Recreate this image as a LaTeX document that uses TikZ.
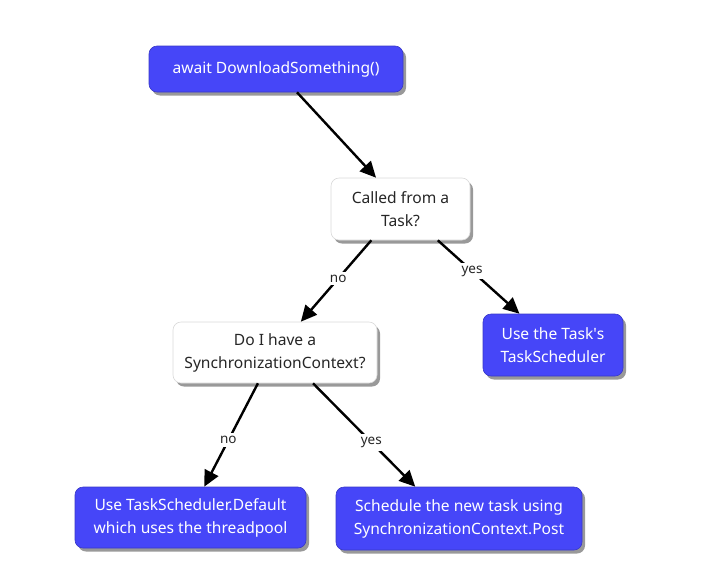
\documentclass[tikz,border=0pt]{standalone}
\usepackage{fontspec}
\setmainfont{Noto Sans}
\usetikzlibrary{arrows.meta,shadows}
\definecolor{boxblue}{RGB}{70,70,248}
\newcommand{\straightapos}{{\addfontfeature{Ligatures=TeXOff}'}}
\tikzset{
  base/.style={rounded corners=8pt, align=center, font=\fontsize{15.6}{23}\selectfont,
    inner sep=0pt, drop shadow={shadow xshift=3pt, shadow yshift=-3.5pt, opacity=0.4, fill=black}},
  bluebox/.style={base, fill=boxblue, text=white, draw=boxblue!80!black, line width=0.6pt},
  whitebox/.style={base, fill=white, text=black!85, draw=black!15, line width=0.6pt},
  conn/.style={line width=2.4pt, -{Triangle[length=16pt,width=15pt]}},
  lbl/.style={fill=white, inner sep=3pt, font=\fontsize{13.5}{15}\selectfont, text=black!85}
}
\begin{document}
\begin{tikzpicture}[x=1pt,y=-1pt]
\useasboundingbox (0,0) rectangle (717,587);
\node[bluebox, minimum width=254pt, minimum height=46pt] (b1) at (276,69) {await DownloadSomething()};
\node[whitebox, minimum width=139pt, minimum height=62pt] (b2) at (400.5,209) {Called from a\\Task?};
\node[whitebox, minimum width=204pt, minimum height=61pt] (b3) at (275,352.5) {Do I have a\\SynchronizationContext?};
\node[bluebox, minimum width=140pt, minimum height=62pt] (b4) at (553,345) {Use the Task\straightapos s\\TaskScheduler};
\node[bluebox, minimum width=231pt, minimum height=61pt] (b5) at (190.5,517.5) {Use TaskScheduler.Default\\which uses the threadpool};
\node[bluebox, minimum width=246pt, minimum height=63pt] (b6) at (459,518.5) {Schedule the new task using\\SynchronizationContext.Post};
\draw[conn] (b1.-48) -- (b2.128);
\draw[conn] (b2.-133) -- node[lbl, pos=0.47] (l1) {no} (b3.50);
\draw[conn] (b2.-40) -- node[lbl, pos=0.42] (l2) {yes} (b4.137);
\draw[conn] (b3.-119) -- node[lbl, pos=0.55] (l3) {no} (b5.66);
\draw[conn] (b3.-39.5) -- node[lbl, pos=0.57] (l4) {yes} (b6.144);
\end{tikzpicture}
\end{document}
